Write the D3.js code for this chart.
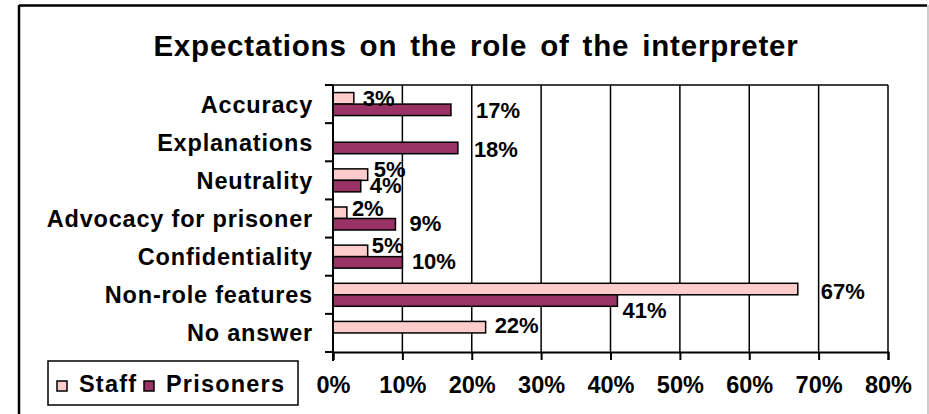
<html><head>
<meta charset="utf-8">
<title>Expectations on the role of the interpreter</title>
<script type="text/javascript" src="https://d3js.org/d3.v7.min.js"></script>
<style>
  body { margin: 0; background: #fff; }
  text { font-family: "Liberation Sans", Arial, sans-serif; font-weight: bold; fill: #000; }
</style>
</head>
<body>
<div id="chart"></div>

<script>

// data
var categories = ["Accuracy", "Explanations", "Neutrality", "Advocacy for prisoner",
                  "Confidentiality", "Non-role features", "No answer"];
var staff     = [3, null, 5, 2, 5, 67, 22];
var prisoners = [17, 18, 4, 9, 10, 41, null];
var seriesNames = ["Staff", "Prisoners"];
var xTicks = [0, 10, 20, 30, 40, 50, 60, 70, 80];

// label nudges (pixels) so the labels sit where Excel put them
var staffNudge     = [[9, 0], [0, 0], [6, -6], [5, -4.5], [4, -6], [23, 2], [9, -2]];
var prisonerNudge  = [[25, 0.5], [16, 1], [9, -1], [14, -1.5], [9.5, -1.5], [5, 9.5], [0, 0]];

var colors = ["#FFCCCC", "#993366"];

var W = 929, H = 414;
var plot = {left: 333, right: 888, top: 85, bottom: 352};

var svg = d3.select("#chart")
  .append("svg")
    .attr("width", W)
    .attr("height", H);

svg.append("rect").attr("width", W).attr("height", H).attr("fill", "#fff");

// chart area frame
svg.append("line").attr("x1", 19).attr("x2", 927).attr("y1", 5.5).attr("y2", 5.5)
  .attr("stroke", "#000").attr("stroke-width", 2.5);
svg.append("line").attr("x1", 19).attr("x2", 19).attr("y1", 5).attr("y2", H)
  .attr("stroke", "#000").attr("stroke-width", 2.5);
svg.append("line").attr("x1", 928).attr("x2", 928).attr("y1", 5).attr("y2", H)
  .attr("stroke", "#999").attr("stroke-width", 1);

// title
svg.append("text")
  .attr("x", 476)
  .attr("y", 56)
  .attr("text-anchor", "middle")
  .style("font-size", "29.5px")
  .style("letter-spacing", "0.8px")
  .style("word-spacing", "4px")
  .text("Expectations on the role of the interpreter");

var xScale = d3.scaleLinear()
    .domain([0, 80])
    .range([plot.left, plot.right]);

var yScale = d3.scaleBand()
    .domain(categories)
    .range([plot.top, plot.bottom]);

var bw = yScale.bandwidth();
var barH = 11.5;

// gridlines
svg.append("g")
  .selectAll("line")
  .data(xTicks.slice(1))
  .join("line")
    .attr("x1", function(d) { return xScale(d); })
    .attr("x2", function(d) { return xScale(d); })
    .attr("y1", plot.top)
    .attr("y2", plot.bottom)
    .attr("stroke", "#000")
    .attr("stroke-width", 1.5);

svg.append("line")
  .attr("x1", plot.left).attr("x2", plot.right)
  .attr("y1", plot.top).attr("y2", plot.top)
  .attr("stroke", "#000").attr("stroke-width", 1.5);

// bars
var series = [staff, prisoners];
series.forEach(function(vals, s) {
  svg.append("g")
    .selectAll("rect")
    .data(categories.filter(function(c, i) { return vals[i] != null; }))
    .join("rect")
      .attr("x", xScale(0))
      .attr("y", function(c) { return yScale(c) + bw / 2 - barH + s * barH; })
      .attr("width", function(c) { return xScale(vals[categories.indexOf(c)]) - xScale(0); })
      .attr("height", barH)
      .attr("fill", colors[s])
      .attr("stroke", "#000")
      .attr("stroke-width", 1.5);
});

// value labels
var nudges = [staffNudge, prisonerNudge];
series.forEach(function(vals, s) {
  svg.append("g")
    .selectAll("text")
    .data(categories.filter(function(c, i) { return vals[i] != null; }))
    .join("text")
      .attr("x", function(c) { var i = categories.indexOf(c); return xScale(vals[i]) + nudges[s][i][0]; })
      .attr("y", function(c) {
        var i = categories.indexOf(c);
        return yScale(c) + bw / 2 - barH / 2 + s * barH + nudges[s][i][1];
      })
      .attr("dy", "0.36em")
      .style("font-size", "22px")
      .text(function(c) { return vals[categories.indexOf(c)] + "%"; });
});

// x axis
var xAxis = d3.axisBottom(xScale)
    .tickValues(xTicks)
    .tickSize(8)
    .tickPadding(16)
    .tickFormat(function(d) { return d + "%"; });

var gx = svg.append("g")
    .attr("transform", "translate(0," + plot.bottom + ")")
    .call(xAxis);
gx.select(".domain").attr("stroke", "#000").attr("stroke-width", 2);
gx.selectAll(".tick line").attr("stroke", "#000").attr("stroke-width", 2);
gx.selectAll(".tick text")
    .attr("fill", "#000")
    .style("font-size", "23.5px")
    .style("font-family", "'Liberation Sans', Arial, sans-serif")
    .style("font-weight", "bold");

// y axis
var gy = svg.append("g")
    .attr("transform", "translate(" + plot.left + ",0)");
gy.append("line")
  .attr("x1", 0).attr("x2", 0).attr("y1", plot.top).attr("y2", plot.bottom + 9)
  .attr("stroke", "#000").attr("stroke-width", 2);
gy.selectAll("line.tk")
  .data(categories.concat(["end"]))
  .join("line")
    .attr("class", "tk")
    .attr("x1", -8).attr("x2", 0)
    .attr("y1", function(c, i) { return i < categories.length ? yScale(c) : plot.bottom; })
    .attr("y2", function(c, i) { return i < categories.length ? yScale(c) : plot.bottom; })
    .attr("stroke", "#000").attr("stroke-width", 2);
gy.selectAll("text")
  .data(categories)
  .join("text")
    .attr("x", -20)
    .attr("y", function(c) { return yScale(c) + bw / 2; })
    .attr("dy", "0.36em")
    .attr("text-anchor", "end")
    .style("font-size", "23.5px")
    .style("letter-spacing", "0.8px")
    .text(function(c) { return c; });

// legend
var lg = svg.append("g");
lg.append("rect")
  .attr("x", 48).attr("y", 361).attr("width", 250).attr("height", 44)
  .attr("fill", "#fff").attr("stroke", "#000").attr("stroke-width", 1.5);
var legX = [57, 144];
seriesNames.forEach(function(name, s) {
  lg.append("rect")
    .attr("x", legX[s]).attr("y", 381).attr("width", 10).attr("height", 10)
    .attr("fill", colors[s]).attr("stroke", "#000").attr("stroke-width", 1.5);
  lg.append("text")
    .attr("x", legX[s] + 22)
    .attr("y", 392)
    .style("font-size", "23.5px")
    .style("letter-spacing", "1.2px")
    .text(name);
});

</script>
</body></html>
